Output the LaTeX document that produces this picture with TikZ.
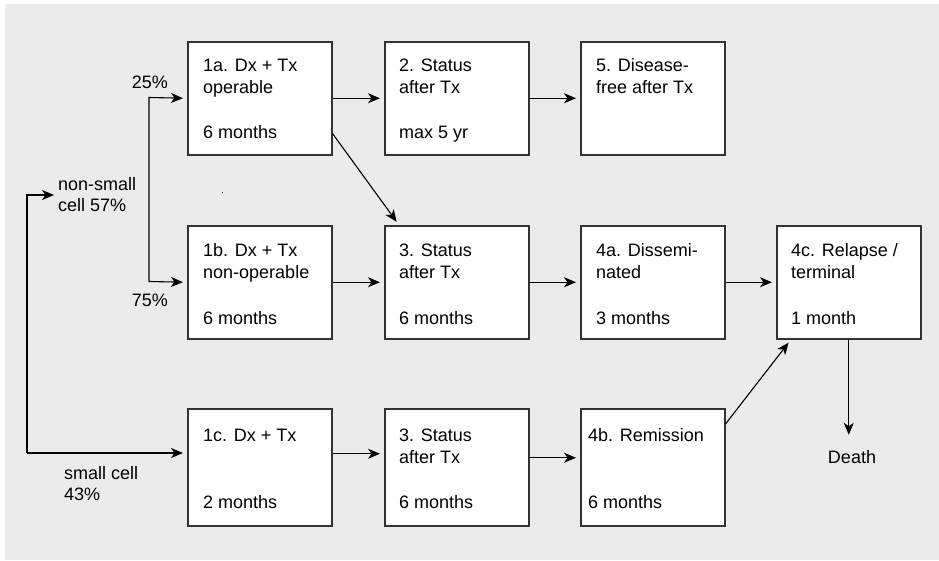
\documentclass[tikz,border=0pt]{standalone}
\usepackage{fontspec}
\setmainfont{Liberation Sans}
\usetikzlibrary{arrows.meta}
\definecolor{bggray}{HTML}{EBEBEB}
\definecolor{edgegray}{HTML}{333333}
\definecolor{inkcol}{HTML}{000000}
\begin{document}
\begin{tikzpicture}[x=1pt,y=-1pt,
  box/.style={draw=edgegray, line width=1.5pt, fill=white, minimum width=144pt, minimum height=113pt, inner sep=0pt, anchor=north west},
  tallbox/.style={box, minimum height=117pt},
  txt/.style={font=\fontsize{18}{22}\selectfont, text=inkcol, inner sep=0pt, align=left, anchor=north west},
  dur/.style={font=\fontsize{18}{22}\selectfont, text=inkcol, inner sep=0pt, anchor=base west},
  lbl/.style={font=\fontsize{18}{21}\selectfont, text=inkcol, inner sep=0pt},
  arr/.style={-{Stealth[length=12pt,width=10pt,inset=3.5pt]}, line width=1.1pt, shorten >=4pt},
  ln/.style={line width=1.1pt}]
\useasboundingbox (0,0) rectangle (939,560);
\fill[bggray] (5,4) rectangle (939,560);
% boxes
\node[box] (b1a) at (187,41) {};
\node[box] (b2) at (384,41) {};
\node[box] (b5) at (580,41) {};
\node[box] (b1b) at (187,225) {};
\node[box] (b3m) at (384,225) {};
\node[box] (b4a) at (580,225) {};
\node[box] (b4c) at (776,225) {};
\node[tallbox] (b1c) at (187,408) {};
\node[tallbox] (b3b) at (384,408) {};
\node[tallbox] (b4b) at (580,408) {};
% box texts
\node[txt] (t1a) at (203,58.5) {1a. Dx + Tx\\operable};
\node[dur] (d1a) at (203,138.5) {6 months};
\node[txt] (t2) at (399,58.5) {2. Status\\after Tx};
\node[dur] (d2) at (399,138.5) {max 5 yr};
\node[txt] (t5) at (596,58.5) {5. Disease-\\free after Tx};
\node[txt] (t1b) at (203,243.5) {1b. Dx + Tx\\non-operable};
\node[dur] (d1b) at (203,324.5) {6 months};
\node[txt] (t3m) at (399,243.5) {3. Status\\after Tx};
\node[dur] (d3m) at (399,324.5) {6 months};
\node[txt] (t4a) at (596,243.5) {4a. Dissemi-\\nated};
\node[dur] (d4a) at (596,324.5) {3 months};
\node[txt] (t4c) at (791,243.5) {4c. Relapse /\\terminal};
\node[dur] (d4c) at (791,324.5) {1 month};
\node[txt] (t1c) at (203,428.5) {1c. Dx + Tx};
\node[dur] (d1c) at (203,508.5) {2 months};
\node[txt] (t3b) at (399,428.5) {3. Status\\after Tx};
\node[dur] (d3b) at (399,508.5) {6 months};
\node[txt] (t4b) at (588,428.5) {4b. Remission};
\node[dur] (d4b) at (588,508.5) {6 months};
% side labels
\node[lbl, anchor=base east] (p25) at (168,88.5) {25\%};
\node[lbl, anchor=base east] (p75) at (168,306.5) {75\%};
\node[txt, font=\fontsize{18}{21}\selectfont] (nsl) at (58,177.5) {non-small\\cell 57\%};
\node[txt, font=\fontsize{18}{21}\selectfont] (scl) at (64,466.5) {small cell\\43\%};
\node[lbl, anchor=base] (death) at (852,463.5) {Death};
% stray dot
\fill[edgegray] (221.5,191.5) rectangle (223,193);
% connectors
\coordinate (ns) at (27,195);
\coordinate (sc) at (27,453);
\draw[arr] (sc) -- (ns) -- (ns -| nsl.west);
\draw[arr] (sc) -- (sc -| b1c.west);
\coordinate (br1) at (149,97.5);
\coordinate (br2) at (149,281.5);
\draw[arr] (br2) -- (br1) -- (b1a.west);
\draw[arr] (br2) -- (b1b.west);
\draw[arr] (b1a.east) -- (b2.west);
\draw[arr] (b2.east) -- (b5.west);
\draw[arr] ([yshift=22pt]b1a.south east) -- ([xshift=15pt]b3m.north west);
\draw[arr] (b1b.east) -- (b3m.west);
\draw[arr] (b3m.east) -- (b4a.west);
\draw[arr] (b4a.east) -- (b4c.west);
\draw[arr] ([yshift=13.5pt]b1c.east) -- ([yshift=13.5pt]b3b.west);
\draw[arr] ([yshift=9.5pt]b3b.east) -- ([yshift=9.5pt]b4b.west);
\draw[arr] ([yshift=-16pt]b4b.north east) -- ([xshift=15pt]b4c.south west);
\draw[arr, shorten >=15.5pt] (b4c.south) -- (b4c.south |- death.north);
\end{tikzpicture}
\end{document}
